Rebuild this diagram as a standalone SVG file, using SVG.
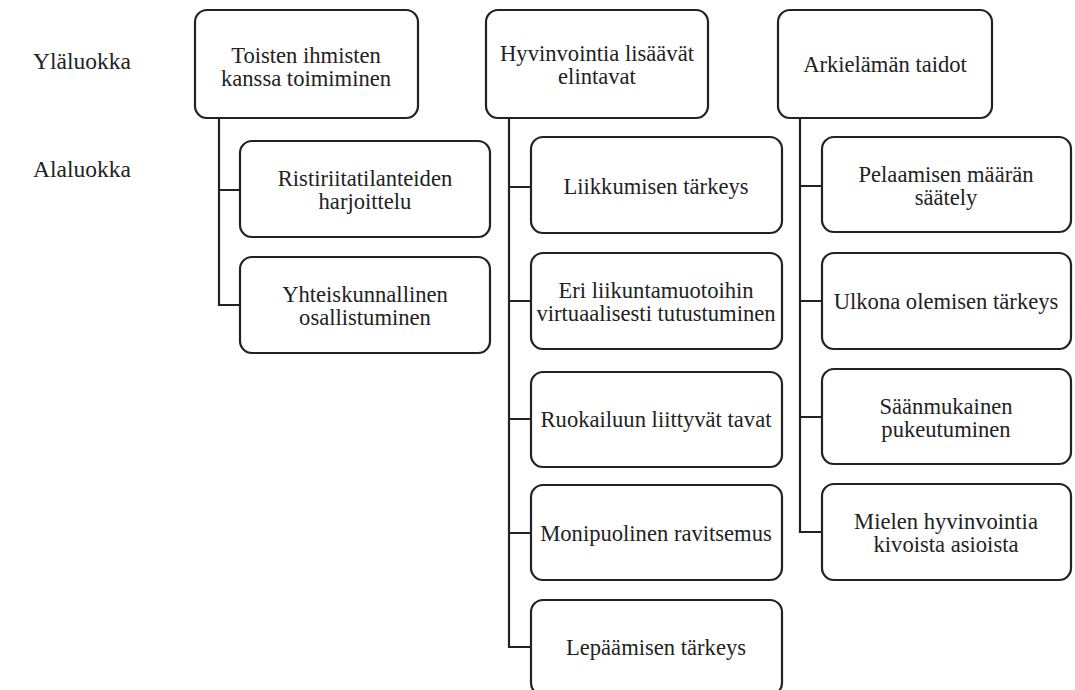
<svg xmlns="http://www.w3.org/2000/svg" width="1075" height="690" viewBox="0 0 1075 690">
<style>
.box{fill:#fff;stroke:#222;stroke-width:2.2}
.t{font-family:"Liberation Serif","Times New Roman",serif;font-size:22.6px;fill:#222;text-anchor:middle}
.lab{font-family:"Liberation Serif","Times New Roman",serif;font-size:23.5px;fill:#222}
.c{fill:none;stroke:#222;stroke-width:2.2}
</style>
<rect width="1075" height="690" fill="#fff"/>
<text class="lab" x="33" y="69">Yläluokka</text>
<text class="lab" x="33" y="177">Alaluokka</text>
<g id="connectors">
<path class="c" d="M219,118 V305 H241 M219,190 H241"/>
<path class="c" d="M509,118 V647 H532 M509,187 H532 M509,301 H532 M509,419 H532 M509,533 H532"/>
<path class="c" d="M800,118 V532 H823 M800,186 H823 M800,301 H823 M800,417 H823"/>
</g>
<g id="n1"><rect class="box" x="195" y="10" width="223" height="108" rx="12"/><text class="t" x="306" y="63">Toisten ihmisten</text><text class="t" x="306" y="86">kanssa toimiminen</text></g>
<g id="n2"><rect class="box" x="486" y="10" width="222" height="108" rx="12"/><text class="t" x="597" y="61">Hyvinvointia lisäävät</text><text class="t" x="597" y="84">elintavat</text></g>
<g id="n3"><rect class="box" x="778" y="10" width="214" height="108" rx="12"/><text class="t" x="885" y="72">Arkielämän taidot</text></g>
<g id="n1a"><rect class="box" x="240" y="141" width="250" height="96" rx="12"/><text class="t" x="365" y="186">Ristiriitatilanteiden</text><text class="t" x="365" y="209">harjoittelu</text></g>
<g id="n1b"><rect class="box" x="240" y="257" width="250" height="96" rx="12"/><text class="t" x="365" y="302">Yhteiskunnallinen</text><text class="t" x="365" y="325">osallistuminen</text></g>
<g id="n2a"><rect class="box" x="531" y="137" width="251" height="96" rx="12"/><text class="t" x="656" y="194">Liikkumisen tärkeys</text></g>
<g id="n2b"><rect class="box" x="531" y="253" width="251" height="96" rx="12"/><text class="t" x="656" y="298">Eri liikuntamuotoihin</text><text class="t" x="656" y="321">virtuaalisesti tutustuminen</text></g>
<g id="n2c"><rect class="box" x="531" y="372" width="251" height="95" rx="12"/><text class="t" x="656" y="427">Ruokailuun liittyvät tavat</text></g>
<g id="n2d"><rect class="box" x="531" y="485" width="251" height="95" rx="12"/><text class="t" x="656" y="541">Monipuolinen ravitsemus</text></g>
<g id="n2e"><rect class="box" x="531" y="600" width="251" height="95" rx="12"/><text class="t" x="656" y="655">Lepäämisen tärkeys</text></g>
<g id="n3a"><rect class="box" x="822" y="137" width="249" height="95" rx="12"/><text class="t" x="946" y="182">Pelaamisen määrän</text><text class="t" x="946" y="205">säätely</text></g>
<g id="n3b"><rect class="box" x="822" y="253" width="249" height="96" rx="12"/><text class="t" x="946" y="309">Ulkona olemisen tärkeys</text></g>
<g id="n3c"><rect class="box" x="822" y="369" width="249" height="95" rx="12"/><text class="t" x="946" y="414">Säänmukainen</text><text class="t" x="946" y="437">pukeutuminen</text></g>
<g id="n3d"><rect class="box" x="822" y="484" width="249" height="96" rx="12"/><text class="t" x="946" y="529">Mielen hyvinvointia</text><text class="t" x="946" y="552">kivoista asioista</text></g>
</svg>
